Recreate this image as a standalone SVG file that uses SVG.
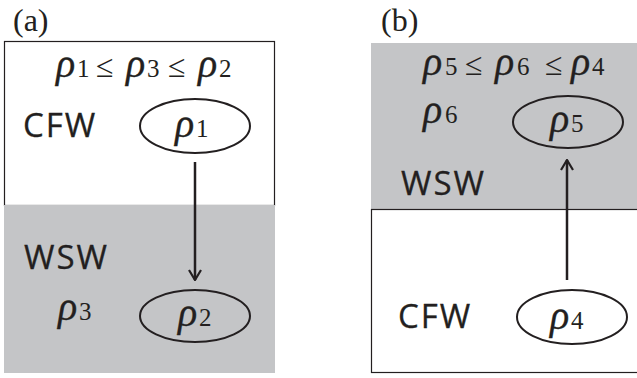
<svg xmlns="http://www.w3.org/2000/svg" width="637" height="378" viewBox="0 0 637 378">
<defs>
<style>
.lbl{font-family:"Liberation Serif",serif;font-size:32px;fill:#231f20}
.w{font-family:"Open Sans","Liberation Sans",sans-serif;font-size:33px;letter-spacing:2px;fill:#231f20;stroke:#231f20;stroke-width:0.3}
.m{font-family:"Liberation Serif",serif;font-size:25px;fill:#231f20}
.r{font-style:italic;font-size:40px;stroke:#231f20;stroke-width:0.3}
.le{font-size:32px}
.gray{fill:#c4c5c7}
.box{fill:#fff;stroke:#231f20;stroke-width:1.2}
.ell{fill:none;stroke:#231f20;stroke-width:2}
.con{stroke:#231f20;stroke-width:2.5;fill:none}
</style>
<marker id="ah" viewBox="0 0 12 14" refX="11" refY="7" markerWidth="12" markerHeight="14" markerUnits="userSpaceOnUse" orient="auto">
<path d="M1,1 L11,7 L1,13" fill="none" stroke="#231f20" stroke-width="2.2"/>
</marker>
</defs>
<g id="panel-a">
<text class="lbl" x="13" y="31">(a)</text>
<rect class="box" x="4.5" y="41.5" width="270" height="164"/>
<rect class="gray" x="4" y="205" width="271" height="168"/>
<text class="m" y="77"><tspan class="r" x="56">ρ</tspan><tspan x="77">1</tspan><tspan class="le" x="96">≤</tspan><tspan class="r" x="126">ρ</tspan><tspan x="147">3</tspan><tspan class="le" x="168">≤</tspan><tspan class="r" x="198">ρ</tspan><tspan x="219">2</tspan></text>
<text class="w" x="23" y="137">CFW</text>
<text class="w" x="24" y="269">WSW</text>
<text class="m" y="320"><tspan class="r" x="58">ρ</tspan><tspan x="79">3</tspan></text>
</g>
<g id="node-rho1">
<ellipse class="ell" cx="195" cy="126" rx="55" ry="27"/>
<text class="m" y="137"><tspan class="r" x="175">ρ</tspan><tspan x="196">1</tspan></text>
</g>
<g id="node-rho2">
<ellipse class="ell" cx="195" cy="316" rx="55" ry="26"/>
<text class="m" y="326"><tspan class="r" x="178">ρ</tspan><tspan x="199">2</tspan></text>
</g>
<g id="panel-b">
<text class="lbl" x="381" y="31">(b)</text>
<rect class="gray" x="371" y="43" width="266" height="166"/>
<rect class="box" x="371.5" y="209.5" width="270" height="163"/>
<text class="m" y="75"><tspan class="r" x="423">ρ</tspan><tspan x="445">5</tspan><tspan class="le" x="465">≤</tspan><tspan class="r" x="495">ρ</tspan><tspan x="517">6</tspan><tspan class="le" x="545">≤</tspan><tspan class="r" x="571">ρ</tspan><tspan x="592">4</tspan></text>
<text class="m" y="123"><tspan class="r" x="423">ρ</tspan><tspan x="445">6</tspan></text>
<text class="w" x="401" y="195">WSW</text>
<text class="w" x="398" y="328">CFW</text>
</g>
<g id="node-rho5">
<ellipse class="ell" cx="568" cy="122" rx="55" ry="26"/>
<text class="m" y="132"><tspan class="r" x="550">ρ</tspan><tspan x="571">5</tspan></text>
</g>
<g id="node-rho4">
<ellipse class="ell" cx="572" cy="317" rx="55" ry="27"/>
<text class="m" y="329"><tspan class="r" x="550">ρ</tspan><tspan x="571">4</tspan></text>
</g>
<g id="connectors">
<line class="con" x1="195" y1="162" x2="195" y2="280" marker-end="url(#ah)"/>
<line class="con" x1="567" y1="280" x2="567" y2="160" marker-end="url(#ah)"/>
</g>
</svg>
